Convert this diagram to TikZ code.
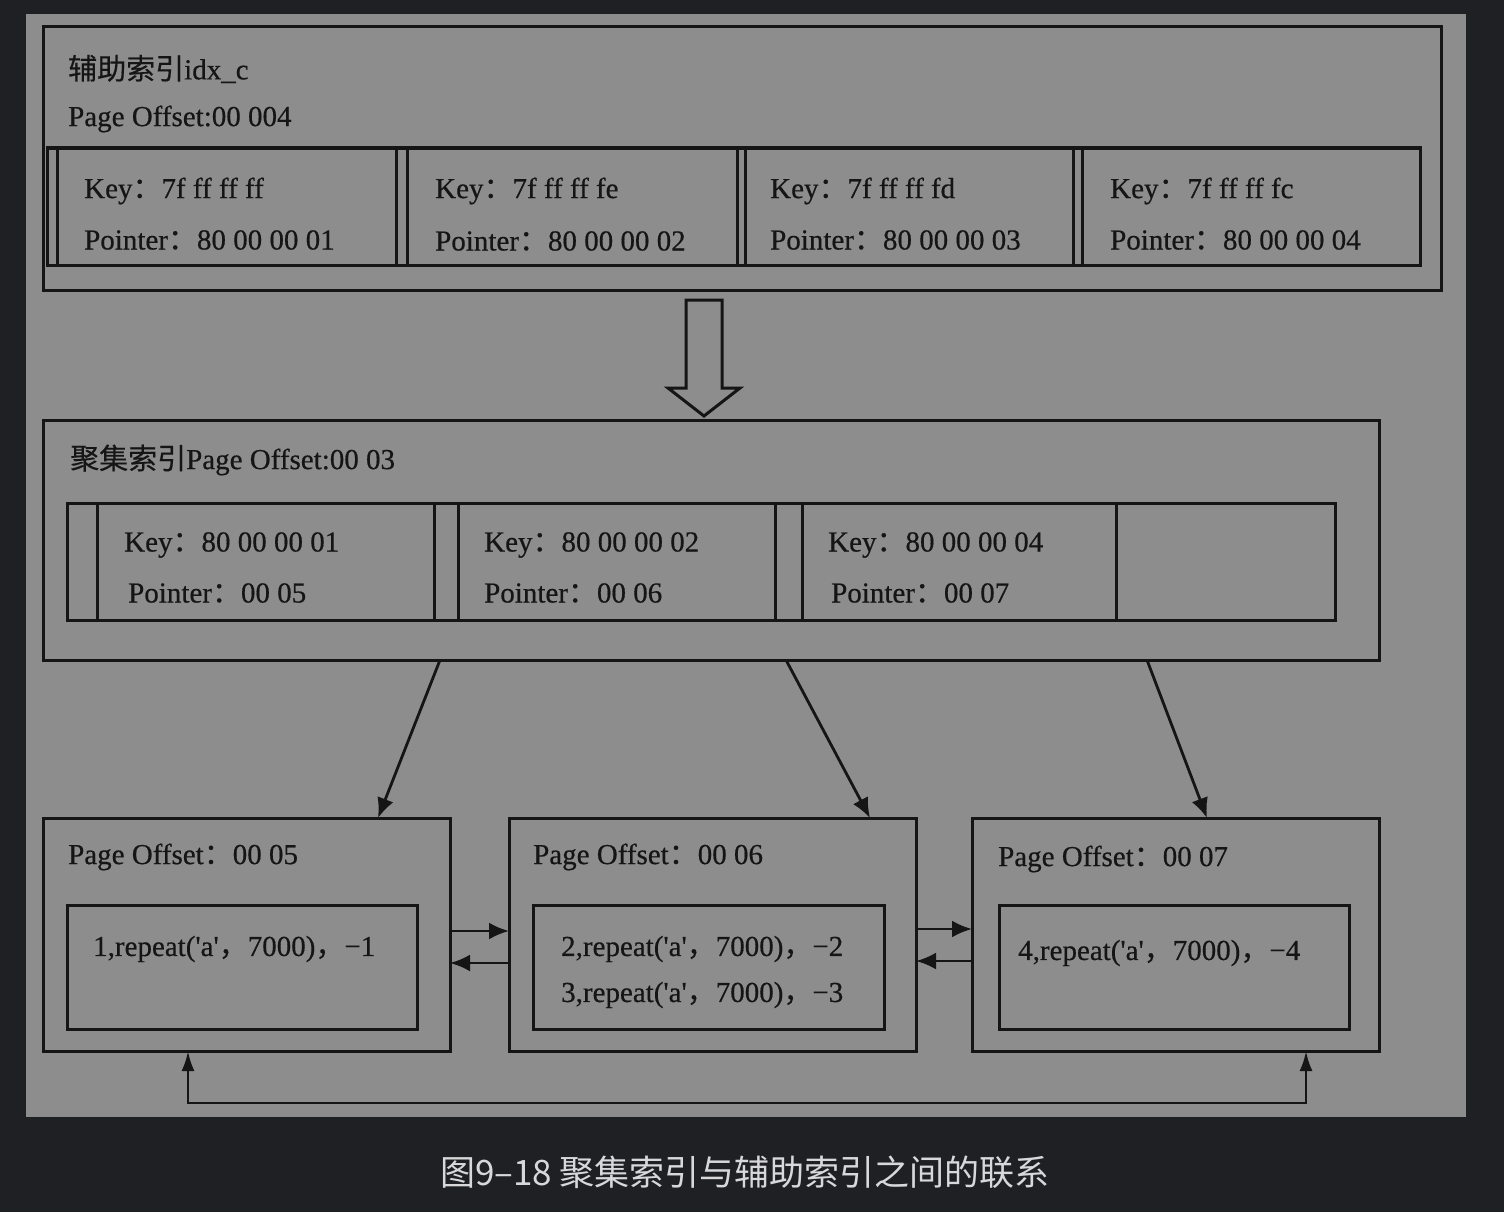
\documentclass[tikz,border=0pt]{standalone}
\usepackage{fontspec}
\setmainfont{Liberation Serif}[FakeBold=0.5]
\newfontfamily\cjk{Noto Sans CJK SC}[FakeBold=0.4]
\newfontfamily\capfont{Noto Sans CJK SC}
\usetikzlibrary{calc,arrows.meta}
\definecolor{bg}{HTML}{1F2023}
\definecolor{panel}{HTML}{8D8D8D}
\definecolor{ink}{HTML}{151515}
\definecolor{capcol}{HTML}{D8D8DA}
\newcommand\fc{{\cjk ：}}
\newcommand\fcm{{\cjk ，}}
\newcommand\qq{\textquotesingle}
\begin{document}
\begin{tikzpicture}[x=1pt,y=-1pt,
 box/.style={draw=ink,line width=3pt,anchor=north west,inner sep=0pt,outer sep=0pt},
 txt/.style={anchor=west,inner sep=0pt,text=ink,font=\fontsize{29}{31}\selectfont},
 sep/.style={draw=ink,line width=3pt},
 link/.style={draw=ink,line width=2.8pt,-{Latex[length=20pt,width=17pt]}},
 uplink/.style={draw=ink,line width=2.8pt,{Latex[length=20pt,width=13pt]}-{Latex[length=20pt,width=13pt]}},
]
\fill[bg] (0,0) rectangle (1504,1212);
\useasboundingbox (0,0) rectangle (1504,1212);
\fill[panel] (26,14) rectangle (1466,1117);

% secondary index page
\node[box,minimum width=1398pt,minimum height=263pt] (sec) at (43,27) {};
\node[txt] (sectitle) at (68,69) {{\cjk 辅助索引}idx\_c};
\node[txt] (secoff) at (68,119) {Page Offset:00 004};
\node[box,minimum width=1373pt,minimum height=117pt] (secrow) at (47,148) {};
\foreach \x in {57,396,407,737,745,1073,1082}
  \draw[sep] (\x,148) -- (\x,265);
\node[txt] (sk1) at (84,191) {Key\fc 7f ff ff ff};
\node[txt] (sp1) at (84,240) {Pointer\fc 80 00 00 01};
\node[txt] (sk2) at (435,191) {Key\fc 7f ff ff fe};
\node[txt] (sp2) at (435,241) {Pointer\fc 80 00 00 02};
\node[txt] (sk3) at (770,191) {Key\fc 7f ff ff fd};
\node[txt] (sp3) at (770,240) {Pointer\fc 80 00 00 03};
\node[txt] (sk4) at (1110,191) {Key\fc 7f ff ff fc};
\node[txt] (sp4) at (1110,240) {Pointer\fc 80 00 00 04};

% hollow arrow
\draw[ink,line width=3pt,fill=panel,line join=miter]
  (686,300) -- (722,300) -- (722,388) -- (740,388) -- (704,416) -- (668,388) -- (686,388) -- cycle;

% clustered index page
\node[box,minimum width=1336pt,minimum height=240pt] (clu) at (43,420) {};
\node[txt] (clutitle) at (70,460) {{\cjk 聚集索引}Page Offset:00 03};
\node[box,minimum width=1268pt,minimum height=117pt] (clurow) at (67,503) {};
\foreach \x in {97,434,458,775,802,1116}
  \draw[sep] (\x,503) -- (\x,620);
\node[txt] (ck1) at (124,545) {Key\fc 80 00 00 01};
\node[txt] (cp1) at (128,593) {Pointer\fc 00 05};
\node[txt] (ck2) at (484,545) {Key\fc 80 00 00 02};
\node[txt] (cp2) at (484,593) {Pointer\fc 00 06};
\node[txt] (ck3) at (828,545) {Key\fc 80 00 00 04};
\node[txt] (cp3) at (831,593) {Pointer\fc 00 07};

% leaf pages
\node[box,minimum width=407pt,minimum height=233pt] (p1) at (43,818) {};
\node[box,minimum width=407pt,minimum height=233pt] (p2) at (509,818) {};
\node[box,minimum width=407pt,minimum height=233pt] (p3) at (972,818) {};
\node[txt] (p1t) at (68,857) {Page Offset\fc 00 05};
\node[txt] (p2t) at (533,857) {Page Offset\fc 00 06};
\node[txt] (p3t) at (998,859) {Page Offset\fc 00 07};
\node[box,minimum width=350pt,minimum height=124pt] (r1) at (67,905) {};
\node[box,minimum width=351pt,minimum height=124pt] (r2) at (533,905) {};
\node[box,minimum width=350pt,minimum height=124pt] (r3) at (999,905) {};
\node[txt] (row1) at (93,949) {1,repeat(\qq a\qq\fcm 7000)\fcm −1};
\node[txt] (row2) at (561,949) {2,repeat(\qq a\qq\fcm 7000)\fcm −2};
\node[txt] (row3) at (561,995) {3,repeat(\qq a\qq\fcm 7000)\fcm −3};
\node[txt] (row4) at (1018,953) {4,repeat(\qq a\qq\fcm 7000)\fcm −4};

% pointers from clustered index to leaf pages
\draw[link] ($(clu.south west)+(397,0)$) -- ($(p1.north west)+(335,0)$);
\draw[link] ($(clu.south west)+(743,0)$) -- ($(p2.north west)+(361,0)$);
\draw[link] ($(clu.south west)+(1104,0)$) -- ($(p3.north west)+(235,0)$);

% sibling links
\draw[link] ($(p1.north east)+(0,113)$) -- ($(p2.north west)+(0,113)$);
\draw[link] ($(p2.north west)+(0,145)$) -- ($(p1.north east)+(0,145)$);
\draw[link] ($(p2.north east)+(0,111)$) -- ($(p3.north west)+(0,111)$);
\draw[link] ($(p3.north west)+(0,143)$) -- ($(p2.north east)+(0,143)$);
\draw[uplink] ($(p1.south west)+(145,0)$) -- ++(0,52) -| ($(p3.south west)+(334,0)$);

% caption
\node[font=\capfont\fontsize{35}{40}\selectfont,text=capcol] (caption) at (745,1172) {图9–18 聚集索引与辅助索引之间的联系};
\end{tikzpicture}
\end{document}
